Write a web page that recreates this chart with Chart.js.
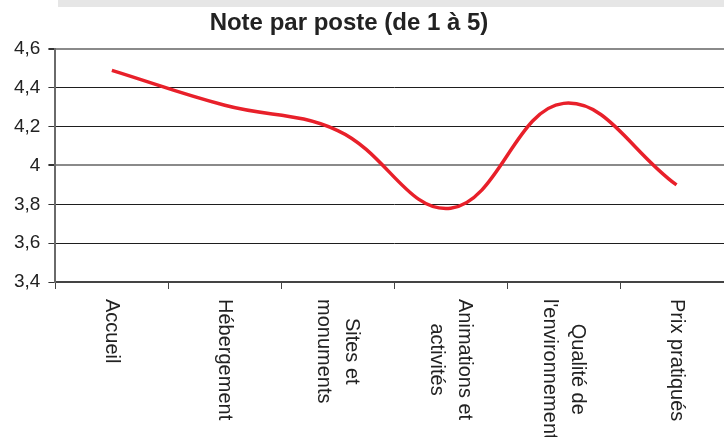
<!DOCTYPE html>
<html>
<head>
<meta charset="utf-8">
<script src="https://cdn.jsdelivr.net/npm/chart.js@4"></script>
<style>
  html, body { margin: 0; padding: 0; background: #fff; overflow: hidden; }
  #wrap { position: relative; width: 740px; height: 437px; }
  #band { position: absolute; left: 58px; top: 0; width: 700px; height: 7px; background: #e6e6e6; }
  #title { position: absolute; left: 0; top: 10px; width: 698px; text-align: center;
           font: bold 24px/24px "Liberation Sans", Arial, sans-serif; color: #222; }
</style>
</head>
<body>
<div id="wrap">
  <canvas id="chart" width="740" height="437"></canvas>
  <div id="band"></div>
  <div id="title">Note par poste (de 1 à 5)</div>
</div>
<script>
const postes = [['Accueil'], ['Hébergement'], ['Sites et', 'monuments'], ['Animations et', 'activités'], ['Qualité de', "l'environnement"], ['Prix pratiqués']];
const notes = [4.49, 4.31, 4.18, 3.78, 4.32, 3.90];
const yTicks = [3.4, 3.6, 3.8, 4.0, 4.2, 4.4, 4.6];

// x labels are drawn rotated clockwise (top to bottom), Chart.js only rotates the other way
const posteLabels = {
  id: 'posteLabels',
  afterDraw(chart) {
    const ctx = chart.ctx;
    const x = chart.scales.x;
    ctx.save();
    ctx.font = '20px "Liberation Sans", Arial, sans-serif';
    ctx.fillStyle = '#222';
    ctx.textAlign = 'center';
    ctx.textBaseline = 'middle';
    postes.forEach((lines, i) => {
      const px = x.getPixelForValue(i);
      const w = Math.max(...lines.map(l => ctx.measureText(l).width));
      ctx.save();
      ctx.translate(px, chart.chartArea.bottom + 17);
      ctx.rotate(Math.PI / 2);
      lines.forEach((l, j) => ctx.fillText(l, w / 2, (j - (lines.length - 1) / 2) * 28));
      ctx.restore();
    });
    ctx.restore();
  }
};

const data = {
  labels: postes,
  datasets: [{
    data: notes,
    borderColor: '#e8202a',
    borderWidth: 3.5,
    pointRadius: 0,
    tension: 0.4,
    fill: false
  }]
};

const config = {
  type: 'line',
  data,
  plugins: [posteLabels],
  options: {
    responsive: false,
    animation: false,
    layout: { padding: { left: 6, right: 7, top: 49, bottom: 148 } },
    plugins: {
      legend: { display: false },
      title: { display: false },
      tooltip: { enabled: false }
    },
    scales: {
      x: {
        offset: true,
        grid: { offset: true, drawOnChartArea: false, drawTicks: true, tickLength: 7, color: '#444' },
        border: { color: '#444', width: 2 },
        ticks: { display: false }
      },
      y: {
        min: yTicks[0],
        max: yTicks[yTicks.length - 1],
        afterBuildTicks: s => { s.ticks = yTicks.map(v => ({ value: v })); },
        border: { color: '#6a6a6a', width: 2 },
        grid: {
          tickLength: 7,
          tickColor: '#333',
          color: c => (c.tick && (c.tick.value === 4 || c.tick.value === 4.6)) ? '#8a8a8a' : (c.tick && c.tick.value === 3.4 ? 'rgba(0,0,0,0)' : '#1e1e1e'),
          lineWidth: c => (c.tick && (c.tick.value === 4 || c.tick.value === 4.6)) ? 2 : 1
        },
        ticks: {
          padding: 8,
          color: '#222',
          font: { family: '"Liberation Sans", Arial, sans-serif', size: 19 },
          callback: v => String(+v.toFixed(1)).replace('.', ',')
        }
      }
    }
  }
};

const myChart = new Chart(document.getElementById('chart'), config);
</script>
</body>
</html>
